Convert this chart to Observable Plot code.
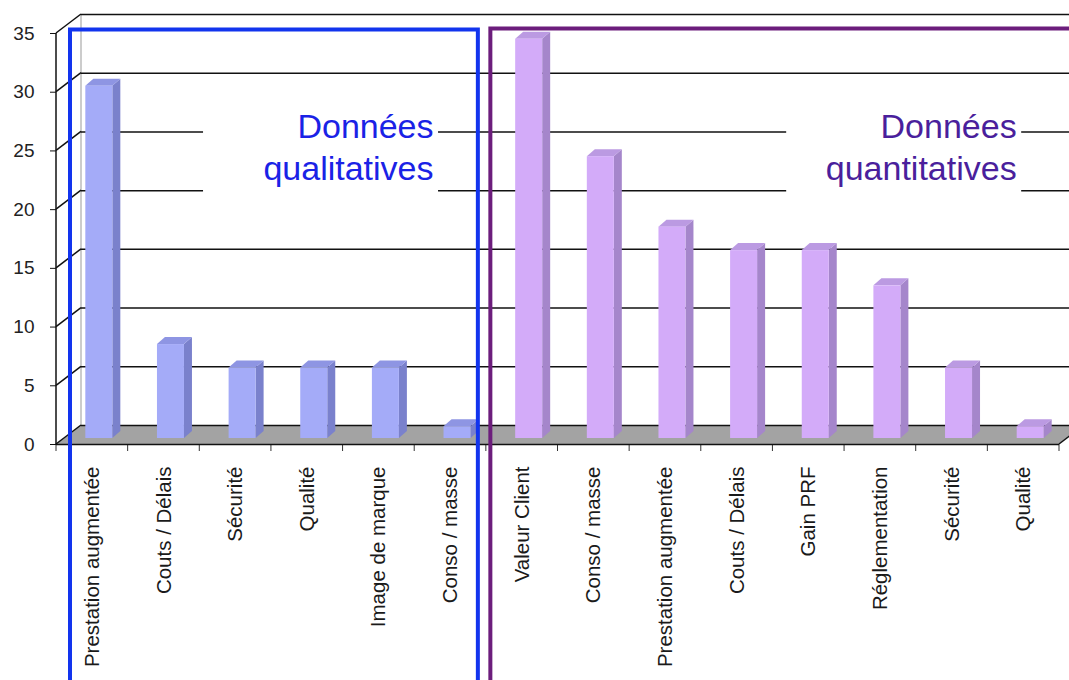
<!DOCTYPE html>
<html><head><meta charset="utf-8">
<script src="https://cdn.jsdelivr.net/npm/d3@7"></script>
<script src="https://cdn.jsdelivr.net/npm/@observablehq/plot@0.6"></script>
<style>body{margin:0;background:#fff;} svg{display:block;}</style>
</head><body><div id="chart"></div>
<script>
const qualCategories = ["Prestation augmentée", "Couts / Délais", "Sécurité", "Qualité", "Image de marque", "Conso / masse"];
const qualValues = [30, 8, 6, 6, 6, 1];
const quantCategories = ["Valeur Client", "Conso / masse", "Prestation augmentée", "Couts / Délais", "Gain PRF", "Réglementation", "Sécurité", "Qualité"];
const quantValues = [34, 24, 18, 16, 16, 13, 6, 1];
const yTicks = [0, 5, 10, 15, 20, 25, 30, 35];
const groupTitles = ["Données\nqualitatives", "Données\nquantitatives"];

const qualData = qualCategories.map((label, i) => ({key: `qual-${i}`, label, value: qualValues[i]}));
const quantData = quantCategories.map((label, i) => ({key: `quant-${i}`, label, value: quantValues[i]}));
const allData = qualData.concat(quantData);
const labelOf = new Map(allData.map(d => [d.key, d.label]));

const W = 1069, H = 680, ML = 56, MR = 10, MT = 33, MB = 236;
const DEPTH = [25, -19];      // back wall offset
const BAR_OFF = [7, -6];      // bar position inside depth
const BAR_DEPTH = [8, -7];    // bar thickness
const BAR_W = 27;
const palette = {
  qual: {front: "#a4abf8", side: "#7a81cc", top: "#8e95e3"},
  quant: {front: "#d3abf9", side: "#a586cb", top: "#bb9ae2"}
};
const FONT = "'Liberation Sans', Arial, Helvetica, sans-serif";
const NS = "http://www.w3.org/2000/svg";
function el(name, attrs = {}, parent) {
  const e = document.createElementNS(NS, name);
  for (const [k, v] of Object.entries(attrs)) e.setAttribute(k, v);
  if (parent) parent.appendChild(e);
  return e;
}
function bwOf(x, dims) {
  return x.bandwidth ? x.bandwidth() : (dims.width - dims.marginLeft - dims.marginRight) / allData.length;
}

// walls, floor, left-wall depth lines, category ticks
function decor(index, scales, values, dims) {
  const g = el("g");
  const y = scales.y, x = scales.x, bw = bwOf(x, dims);
  const xL = dims.marginLeft, xR = dims.width - dims.marginRight;
  const y0 = y(0), yTop = y(d3.max(yTicks));
  el("polygon", {points: `${xL},${y0} ${xR},${y0} ${xR + DEPTH[0]},${y0 + DEPTH[1]} ${xL + DEPTH[0]},${y0 + DEPTH[1]}`, fill: "#a3a3a3", stroke: "none"}, g);
  el("line", {x1: xR, y1: y0, x2: xR + DEPTH[0], y2: y0 + DEPTH[1], stroke: "#111", "stroke-width": 1.5}, g);
  el("line", {x1: xL + DEPTH[0], y1: yTop + DEPTH[1], x2: xL + DEPTH[0], y2: y0 + DEPTH[1], stroke: "#999", "stroke-width": 1}, g);
  el("line", {x1: xL, y1: yTop, x2: xL, y2: y0, stroke: "#111", "stroke-width": 1.5}, g);
  for (const t of yTicks) {
    el("line", {x1: xL, y1: y(t), x2: xL + DEPTH[0], y2: y(t) + DEPTH[1], stroke: "#111", "stroke-width": 1.5}, g);
  }
  for (const d of allData) {
    const xx = x(d.key);
    el("line", {x1: xx, y1: y0, x2: xx, y2: y0 + 7, stroke: "#333", "stroke-width": 1}, g);
  }
  el("line", {x1: xR, y1: y0, x2: xR, y2: y0 + 7, stroke: "#333", "stroke-width": 1}, g);
  return g;
}

// white boxes behind the group titles
const titleY = 25.45;
const titleDx = [-17, -7];
const titleKeys = [qualData[qualData.length - 1].key, quantData[quantData.length - 1].key];
function titleBoxes(index, scales, values, dims) {
  const g = el("g");
  const x = scales.x, y = scales.y, bw = bwOf(x, dims);
  titleKeys.forEach((k, i) => {
    const right = x(k) + bw / 2 + titleDx[i] + 5;
    el("rect", {x: right - 235, y: y(titleY) - 55, width: 235, height: 110, fill: "#fff"}, g);
  });
  return g;
}

// side and top faces of the 3D bars
function barFaces(data, colors) {
  return (index, scales, values, dims) => {
    const g = el("g");
    const x = scales.x, y = scales.y, bw = bwOf(x, dims);
    for (const d of data) {
      const xl = x(d.key) + (bw - BAR_W) / 2 + BAR_OFF[0];
      const xr = xl + BAR_W;
      const yt = y(d.value) + BAR_OFF[1];
      const yb = y(0) + BAR_OFF[1];
      const [ddx, ddy] = BAR_DEPTH;
      el("polygon", {points: `${xr},${yt} ${xr + ddx},${yt + ddy} ${xr + ddx},${yb + ddy} ${xr},${yb}`, fill: colors.side}, g);
      el("polygon", {points: `${xl},${yt} ${xl + ddx},${yt + ddy} ${xr + ddx},${yt + ddy} ${xr},${yt}`, fill: colors.top}, g);
    }
    return g;
  };
}

// group frames
function frames(index, scales, values, dims) {
  const g = el("g");
  const x = scales.x, y = scales.y, bw = bwOf(x, dims);
  const top = y(d3.max(yTicks)) - 3.5;
  const bx1 = x(qualData[0].key) + 14, bx2 = x(qualData[qualData.length - 1].key) + bw - 8;
  el("rect", {x: bx1, y: top, width: bx2 - bx1, height: dims.height + 20 - top, fill: "none", stroke: "#1234ee", "stroke-width": 4}, g);
  const px1 = x(quantData[0].key) + 4.5;
  el("rect", {x: px1, y: top - 1, width: dims.width + 20 - px1, height: dims.height + 20 - top, fill: "none", stroke: "#6c1d7c", "stroke-width": 4}, g);
  return g;
}

const inset = (W - ML - MR) / allData.length / 2 - BAR_W / 2;

const chart = Plot.plot({
  width: W, height: H,
  marginLeft: ML, marginRight: MR, marginTop: MT, marginBottom: MB,
  style: {fontFamily: FONT, color: "#111", background: "#fff"},
  x: {type: "band", domain: allData.map(d => d.key), padding: 0, round: false, label: null},
  y: {domain: [0, 35], label: null},
  marks: [
    decor,
    Plot.ruleY(yTicks, {dx: DEPTH[0], dy: DEPTH[1], stroke: "#111", strokeWidth: 1.5}),
    titleBoxes,
    Plot.text([{key: titleKeys[0], t: groupTitles[0]}], {x: "key", y: () => titleY, text: "t", textAnchor: "end", lineAnchor: "middle", lineHeight: 1.235, fontSize: 34, fill: "#1a22e6", dx: titleDx[0]}),
    Plot.text([{key: titleKeys[1], t: groupTitles[1]}], {x: "key", y: () => titleY, text: "t", textAnchor: "end", lineAnchor: "middle", lineHeight: 1.235, fontSize: 34, fill: "#4a1f9c", dx: titleDx[1]}),
    barFaces(qualData, palette.qual),
    barFaces(quantData, palette.quant),
    Plot.rectY(qualData, {x: "key", y: "value", fill: palette.qual.front, insetLeft: inset, insetRight: inset, dx: BAR_OFF[0], dy: BAR_OFF[1]}),
    Plot.rectY(quantData, {x: "key", y: "value", fill: palette.quant.front, insetLeft: inset, insetRight: inset, dx: BAR_OFF[0], dy: BAR_OFF[1]}),
    Plot.ruleY([0], {stroke: "#111", strokeWidth: 1.5}),
    Plot.axisY({ticks: yTicks, tickSize: 6, tickPadding: 16, fontSize: 19, label: null, stroke: "#111", fill: "#222"}),
    Plot.axisX({tickRotate: -90, tickSize: 0, tickPadding: 22, fontSize: 20.5, label: null, fill: "#1a1a1a", tickFormat: k => labelOf.get(k)}),
    frames
  ]
});
document.getElementById("chart").appendChild(chart);
</script>
</body></html>
